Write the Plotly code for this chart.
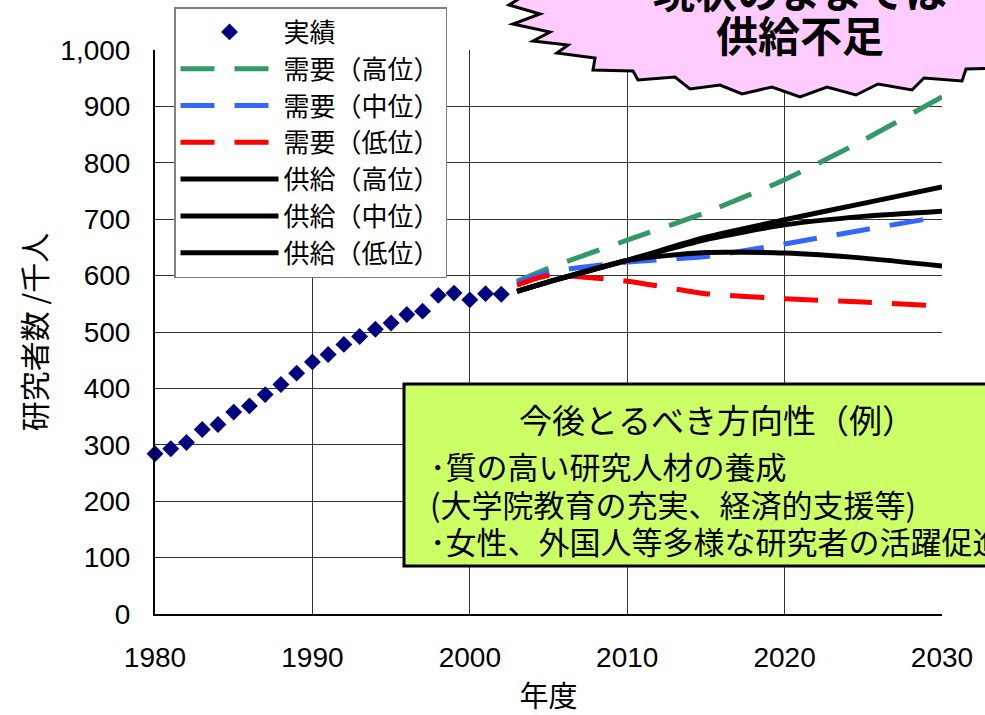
import plotly.graph_objects as go

# ---------------- data ----------------
years_actual = list(range(1980, 2003))
actual = [284, 293, 304, 327, 336, 358, 369, 389, 407, 427, 447, 460, 478, 492,
          505, 516, 531, 537, 565, 569, 557, 568, 567]

years_proj = [2003, 2005, 2010, 2015, 2020, 2025, 2030]
demand_high = [590, 613, 663, 712, 770, 840, 917]
demand_mid = [587, 606, 624, 634, 656, 681, 705]
demand_low = [583, 600, 590, 568, 559, 553, 546]
supply_high = [572, 589, 627, 668, 699, 728, 757]
supply_mid = [572, 589, 627, 664, 690, 705, 714]
supply_low = [572, 589, 627, 641, 640, 631, 617]

x_ticks = [1980, 1990, 2000, 2010, 2020, 2030]

# ---------------- layout helpers ----------------
W, H = 985, 715
L, R, T, B = 155, 43, 50, 101
PW, PH = W - L - R, H - T - B
JP = "Noto Sans CJK JP"


def px(x):
    return (x - L) / PW


def py(y):
    return (T + PH - y) / PH


fig = go.Figure()
fig.add_trace(go.Scatter(x=years_actual, y=actual, mode="markers", name="実績",
                         marker=dict(symbol="diamond", size=13, color="#000080"),
                         cliponaxis=False))
for name, vals, col in [("需要（高位）", demand_high, "#339966"),
                        ("需要（中位）", demand_mid, "#3366FF"),
                        ("需要（低位）", demand_low, "#FF0000")]:
    fig.add_trace(go.Scatter(x=years_proj, y=vals, mode="lines", name=name,
                             line=dict(color=col, width=5, dash="34px,20px",
                                       shape="spline", smoothing=0.6),
                             cliponaxis=False))
for name, vals in [("供給（高位）", supply_high), ("供給（中位）", supply_mid),
                   ("供給（低位）", supply_low)]:
    fig.add_trace(go.Scatter(x=years_proj, y=vals, mode="lines", name=name,
                             line=dict(color="black", width=5,
                                       shape="spline", smoothing=0.6),
                             cliponaxis=False))

# starburst callout (pixel outline)
burst = [(525, -40), (525, -5), (509, 5), (540, 14), (513, 24), (550, 32), (533, 41),
         (568, 45), (557, 53), (595, 58), (593, 70), (633, 71), (638, 80),
         (675, 77), (690, 89), (720, 85), (742, 94), (772, 87), (800, 97),
         (827, 87), (856, 95), (878, 84), (912, 90), (924, 78), (962, 81),
         (966, 69), (1010, 68), (1010, -40)]
path = "M " + " L ".join(f"{px(a):.5f},{py(b):.5f}" for a, b in burst) + " Z"

shapes = [
    dict(type="path", path=path, xref="paper", yref="paper",
         fillcolor="#FFCCFF", line=dict(color="black", width=3), layer="above"),
    dict(type="rect", xref="paper", yref="paper",
         x0=px(404), x1=px(1010), y0=py(566), y1=py(384),
         fillcolor="#CCFF66", line=dict(color="black", width=3), layer="above"),
]

annotations = [
    dict(text="<b>現状のままでは</b>", x=px(800), y=py(-10)),
    dict(text="<b>供給不足</b>", x=px(800), y=py(34)),
]
for a in annotations:
    a.update(xref="paper", yref="paper", xanchor="center", yanchor="middle",
             showarrow=False, font=dict(family=JP, size=42, color="black"))

annotations.append(dict(text="今後とるべき方向性（例）", x=px(717), y=py(419),
                        xref="paper", yref="paper", xanchor="center",
                        yanchor="middle", showarrow=False,
                        font=dict(family=JP, size=33, color="black")))
for txt, yy in [("･質の高い研究人材の養成", 465),
                ("(大学院教育の充実、経済的支援等)", 503),
                ("･女性、外国人等多様な研究者の活躍促進", 540)]:
    annotations.append(dict(text=txt, x=px(428), y=py(yy), xref="paper",
                            yref="paper", xanchor="left", yanchor="middle",
                            showarrow=False,
                            font=dict(family=JP, size=31, color="black")))

fig.update_layout(
    width=W, height=H,
    margin=dict(l=L, r=R, t=T, b=B, autoexpand=False),
    plot_bgcolor="white", paper_bgcolor="white",
    font=dict(family="Liberation Sans, Arial, " + JP, size=28, color="black"),
    showlegend=True,
    legend=dict(x=px(174), y=py(7), xanchor="left", yanchor="top",
                bgcolor="white", bordercolor="#808080", borderwidth=1.5,
                font=dict(family=JP, size=26, color="black"),
                itemwidth=98, tracegroupgap=0),
    shapes=shapes,
    annotations=annotations,
    xaxis=dict(range=[1980, 2030], tickvals=x_ticks, showgrid=True,
               gridcolor="#333333", gridwidth=1, zeroline=False,
               showline=True, linecolor="black", linewidth=2,
               ticks="", ticklabelstandoff=17,
               title=dict(text="年度", font=dict(family=JP, size=29),
                          standoff=19)),
    yaxis=dict(range=[0, 1000], dtick=100, tickformat=",", showgrid=True,
               gridcolor="#333333", gridwidth=1, zeroline=False,
               showline=True, linecolor="black", linewidth=2,
               ticks="", ticklabelstandoff=17,
               title=dict(text="研究者数 /千人", font=dict(family=JP, size=30),
                          standoff=5)),
)

fig.write_html("out.html")
